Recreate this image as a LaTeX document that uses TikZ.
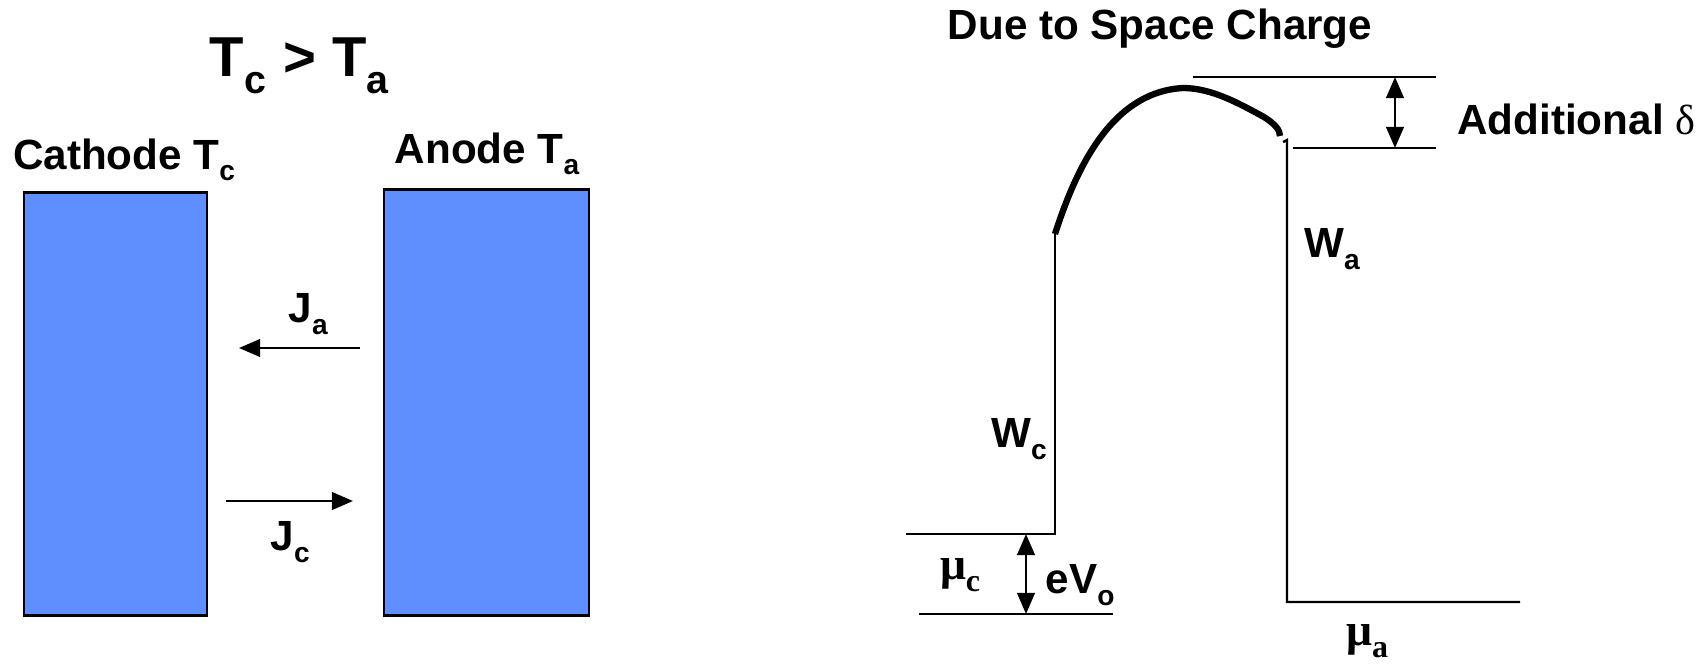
\documentclass[tikz,border=0pt]{standalone}
\usepackage{fontspec}
\setmainfont{Liberation Sans}
\newfontfamily\symfont{Liberation Serif}
\usetikzlibrary{arrows.meta}

\definecolor{plateBlue}{HTML}{5F8FFF}
\newcommand{\lo}[1]{\textsubscript{\raisebox{-0.35ex}{#1}}}

\begin{document}
\begin{tikzpicture}[x=0.01cm,y=-0.01cm,font=\bfseries\fontsize{12}{14}\selectfont,
  plate/.style={draw,line width=0.8pt,fill=plateBlue,inner sep=0pt},
  level/.style={line width=0.7pt},
  flux/.style={line width=0.7pt,-{Triangle[length=6pt,width=5pt]}},
  gap/.style={line width=0.7pt,{Triangle[length=6pt,width=5pt]}-{Triangle[length=6pt,width=5pt]}}]
  \useasboundingbox (0,0) rectangle (1702,667);

  % the two plates
  \node[plate,minimum width=1.83cm,minimum height=4.22cm] (cathode) at (115.5,404) {};
  \node[plate,minimum width=2.05cm,minimum height=4.25cm] (anode) at (486.5,402.5) {};

  \node[font=\bfseries\fontsize{16}{18}\selectfont] (ratio) at (300,66) {T\lo{c} > T\lo{a}};
  \node (cathodeLbl) at (125,160) {Cathode T\lo{c}};
  \node (anodeLbl) at (488,154) {Anode T\lo{a}};

  % fluxes across the gap
  \coordinate (jaStart) at (360,348);
  \coordinate (jaEnd) at (239,348);
  \coordinate (jcStart) at (226,501);
  \coordinate (jcEnd) at (353,501);
  \draw[flux] (jaStart) -- (jaEnd);
  \draw[flux] (jcStart) -- (jcEnd);
  \node (jaLbl) at (309,314) {J\lo{a}};
  \node (jcLbl) at (291,542) {J\lo{c}};

  % energy diagram
  \node (title) at (1160,29) {Due to Space Charge};
  \draw[level] (906,534) -- (1055,534) -- (1055,234);
  \draw[line width=1.8pt] (1055,234) .. controls (1075,172) and (1110,92) .. (1183,88)
    .. controls (1212,88) and (1240,104) .. (1264,117)
    .. controls (1275,124) and (1280,130) .. (1280,136);
  \draw[level] (1283,142) -- (1287,140) -- (1287,602) -- (1520,602);
  \draw[level] (1193,77) -- (1436,77);
  \draw[level] (1293,148) -- (1436,148);
  \draw[level] (919,614) -- (1113,614);

  \coordinate (deltaTop) at (1395,77);
  \coordinate (deltaBot) at (1395,148);
  \coordinate (evTop) at (1026,534);
  \coordinate (evBot) at (1026,614);
  \draw[gap] (deltaTop) -- (deltaBot);
  \draw[gap] (evTop) -- (evBot);

  \node[anchor=west] (deltaLbl) at (1445,119) {Additional {\symfont\mdseries δ}};
  \node (waLbl) at (1333,249) {W\lo{a}};
  \node (wcLbl) at (1020,439) {W\lo{c}};
  \node (evLbl) at (1081,585) {eV\lo{o}};
  \node[font=\symfont\bfseries\fontsize{13}{15}\selectfont] (muC) at (961,575) {μ\lo{c}};
  \node[font=\symfont\bfseries\fontsize{13}{15}\selectfont] (muA) at (1368,641) {μ\lo{a}};
\end{tikzpicture}
\end{document}
